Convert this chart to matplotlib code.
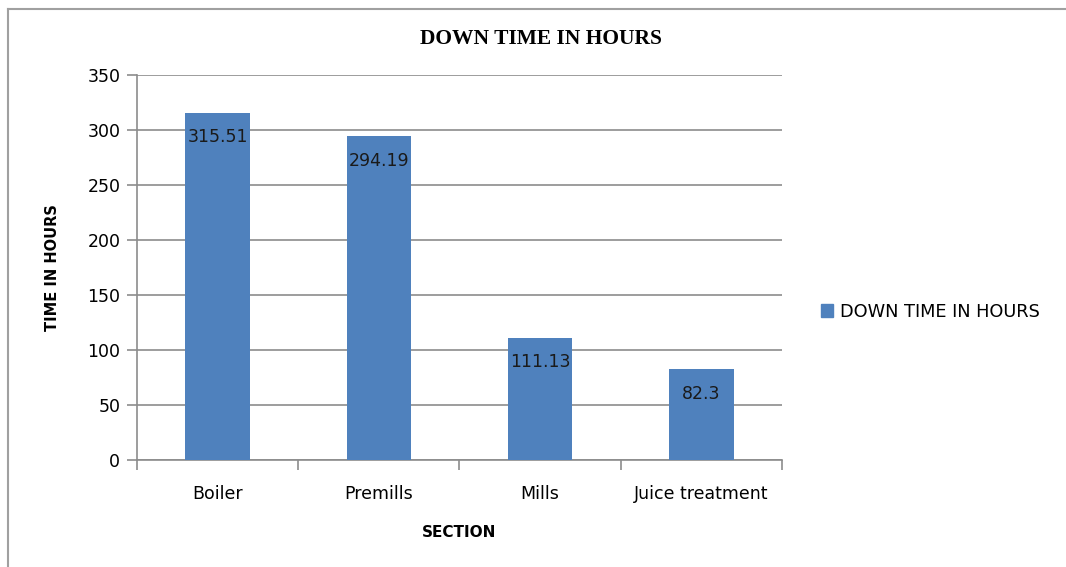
import numpy as np
import matplotlib.pyplot as plt
from matplotlib.lines import Line2D
from matplotlib.patches import Patch

# downtime per section
sections = ["Boiler", "Premills", "Mills", "Juice treatment"]
hours = [315.51, 294.19, 111.13, 82.3]
yticks = [0, 50, 100, 150, 200, 250, 300, 350]

bar_color = "#4F81BD"
grid_color = "#8C8C8C"

fig = plt.figure(figsize=(10.66, 5.67), dpi=100)
ax = fig.add_axes([0.1285, 0.1887, 0.605, 0.679])

x = np.arange(len(sections))
ax.bar(x, hours, width=0.40, color=bar_color, zorder=3)

# value labels sit just inside the top of each bar
for xi, h in zip(x, hours):
    ax.annotate(f"{h:g}", (xi, h), xytext=(0, -17.5), textcoords="offset points",
                ha="center", va="center", fontsize=12.5, color="#1a1a1a", zorder=4)

ax.set_xlim(-0.5, len(sections) - 0.5)
ax.set_ylim(0, 350)
ax.set_yticks(yticks)
ax.yaxis.grid(True, color=grid_color, linewidth=1.2, zorder=0)

ax.set_xticks(x)
ax.set_xticklabels(sections, fontsize=12.5)
ax.set_xticks(np.arange(-0.5, len(sections)), minor=True)
ax.tick_params(axis="x", which="major", length=0, pad=18)
ax.tick_params(axis="x", which="minor", length=7, color=grid_color, width=1.2)
ax.tick_params(axis="y", length=7, color=grid_color, width=1.2, pad=5, labelsize=12.5)

for side in ["top", "right"]:
    ax.spines[side].set_visible(False)
for side in ["left", "bottom"]:
    ax.spines[side].set_color(grid_color)
    ax.spines[side].set_linewidth(1.2)

ax.set_ylabel("TIME IN HOURS", fontsize=10.5, fontweight="bold", labelpad=20)
ax.set_xlabel("SECTION", fontsize=11, fontweight="bold", labelpad=16)

fig.text(0.507, 0.932, "DOWN TIME IN HOURS", ha="center", va="center",
         fontsize=15.5, fontweight="bold", family="Liberation Serif")

fig.legend(handles=[Patch(color=bar_color, label="DOWN TIME IN HOURS")],
           loc="center left", bbox_to_anchor=(0.755, 0.450), frameon=False,
           fontsize=12.8, handlelength=0.7, handleheight=0.7, handletextpad=0.4)

# outer chart frame
fig.add_artist(Line2D([0.0075, 0.0075], [0.0, 0.984], color="#A0A0A0", linewidth=1.5))
fig.add_artist(Line2D([0.0075, 1.0], [0.984, 0.984], color="#A0A0A0", linewidth=1.5))

fig.savefig("out.png", dpi=100)
